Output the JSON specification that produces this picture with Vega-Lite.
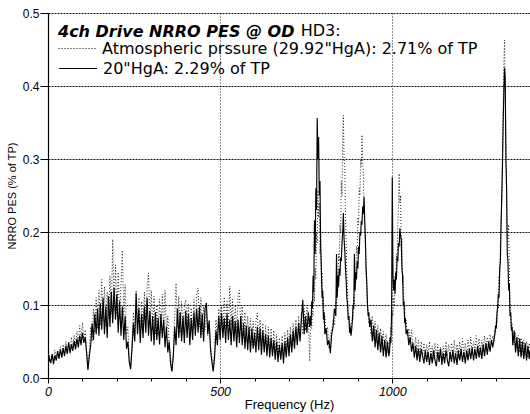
{
"$schema":"https://vega.github.io/schema/vega-lite/v6.json",
"width":482,"height":365,
"autosize":{"type":"none"},
"padding":{"left":48,"top":13,"right":0,"bottom":36},
"background":"white",
"config":{"view":{"stroke":null},"font":"Liberation Sans"},
"resolve":{"axis":{"x":"independent"},"scale":{"strokeDash":"independent"},"legend":{"strokeDash":"independent"}},
"data":{"values":[
{"f":0,"a":0.022,"h":0.018},{"f":4,"a":0.032,"h":0.027},{"f":8,"a":0.019,"h":0.021},{"f":12,"a":0.030,"h":0.033},{"f":16,"a":0.024,"h":0.019},{"f":20,"a":0.038,"h":0.031},{"f":24,"a":0.027,"h":0.024},{"f":28,"a":0.036,"h":0.037},{"f":32,"a":0.030,"h":0.026},{"f":36,"a":0.043,"h":0.039},{"f":40,"a":0.029,"h":0.028},{"f":44,"a":0.046,"h":0.041},{"f":48,"a":0.033,"h":0.030},{"f":52,"a":0.050,"h":0.044},{"f":56,"a":0.036,"h":0.033},{"f":60,"a":0.047,"h":0.049},{"f":64,"a":0.038,"h":0.034},{"f":68,"a":0.056,"h":0.046},{"f":72,"a":0.041,"h":0.037},{"f":76,"a":0.059,"h":0.051},{"f":80,"a":0.045,"h":0.039},{"f":84,"a":0.064,"h":0.054},{"f":88,"a":0.047,"h":0.042},{"f":92,"a":0.072,"h":0.058},{"f":96,"a":0.049,"h":0.045},{"f":100,"a":0.076,"h":0.062},{"f":104,"a":0.052,"h":0.048},{"f":108,"a":0.066,"h":0.056},{"f":112,"a":0.040,"h":0.035},{"f":116,"a":0.015,"h":0.011},{"f":120,"a":0.038,"h":0.030},
{"f":124,"a":0.070,"h":0.045},{"f":128,"a":0.050,"h":0.075},{"f":132,"a":0.095,"h":0.052},{"f":136,"a":0.062,"h":0.088},{"f":140,"a":0.110,"h":0.060},{"f":144,"a":0.068,"h":0.095},{"f":148,"a":0.120,"h":0.058},{"f":152,"a":0.072,"h":0.102},{"f":156,"a":0.135,"h":0.066},{"f":160,"a":0.078,"h":0.110},{"f":164,"a":0.125,"h":0.060},{"f":168,"a":0.070,"h":0.098},{"f":172,"a":0.118,"h":0.055},{"f":176,"a":0.082,"h":0.112},{"f":180,"a":0.140,"h":0.070},{"f":184,"a":0.088,"h":0.118},{"f":188,"a":0.190,"h":0.075},{"f":192,"a":0.092,"h":0.124},{"f":196,"a":0.155,"h":0.080},{"f":200,"a":0.085,"h":0.115},{"f":204,"a":0.145,"h":0.062},{"f":208,"a":0.080,"h":0.105},{"f":212,"a":0.130,"h":0.058},{"f":216,"a":0.175,"h":0.098},{"f":220,"a":0.085,"h":0.052},{"f":224,"a":0.128,"h":0.085},{"f":228,"a":0.060,"h":0.040},{"f":232,"a":0.070,"h":0.050},{"f":236,"a":0.028,"h":0.022},{"f":240,"a":0.015,"h":0.012},
{"f":244,"a":0.050,"h":0.040},{"f":248,"a":0.090,"h":0.075},{"f":252,"a":0.060,"h":0.050},{"f":256,"a":0.120,"h":0.116},{"f":260,"a":0.070,"h":0.060},{"f":264,"a":0.110,"h":0.095},{"f":268,"a":0.062,"h":0.048},{"f":272,"a":0.105,"h":0.088},{"f":276,"a":0.068,"h":0.055},{"f":280,"a":0.118,"h":0.098},{"f":284,"a":0.075,"h":0.062},{"f":288,"a":0.125,"h":0.110},{"f":292,"a":0.144,"h":0.058},{"f":296,"a":0.070,"h":0.092},{"f":300,"a":0.120,"h":0.050},{"f":304,"a":0.065,"h":0.085},{"f":308,"a":0.112,"h":0.045},{"f":312,"a":0.060,"h":0.090},{"f":316,"a":0.100,"h":0.052},{"f":320,"a":0.058,"h":0.082},{"f":324,"a":0.108,"h":0.046},{"f":328,"a":0.062,"h":0.088},{"f":332,"a":0.115,"h":0.055},{"f":336,"a":0.068,"h":0.080},{"f":340,"a":0.120,"h":0.042},{"f":344,"a":0.060,"h":0.070},{"f":348,"a":0.085,"h":0.035},{"f":352,"a":0.045,"h":0.050},{"f":356,"a":0.030,"h":0.020},{"f":360,"a":0.010,"h":0.009},
{"f":364,"a":0.035,"h":0.030},{"f":368,"a":0.085,"h":0.070},{"f":372,"a":0.130,"h":0.045},{"f":376,"a":0.070,"h":0.095},{"f":380,"a":0.112,"h":0.055},{"f":384,"a":0.062,"h":0.090},{"f":388,"a":0.105,"h":0.050},{"f":392,"a":0.060,"h":0.085},{"f":396,"a":0.098,"h":0.048},{"f":400,"a":0.107,"h":0.092},{"f":404,"a":0.065,"h":0.055},{"f":408,"a":0.102,"h":0.088},{"f":412,"a":0.058,"h":0.045},{"f":416,"a":0.096,"h":0.082},{"f":420,"a":0.062,"h":0.052},{"f":424,"a":0.108,"h":0.090},{"f":428,"a":0.068,"h":0.058},{"f":432,"a":0.115,"h":0.095},{"f":436,"a":0.123,"h":0.062},{"f":440,"a":0.070,"h":0.098},{"f":444,"a":0.110,"h":0.055},{"f":448,"a":0.060,"h":0.088},{"f":452,"a":0.100,"h":0.050},{"f":456,"a":0.066,"h":0.095},{"f":460,"a":0.095,"h":0.103},{"f":464,"a":0.058,"h":0.060},{"f":468,"a":0.080,"h":0.078},{"f":472,"a":0.045,"h":0.040},{"f":476,"a":0.028,"h":0.022},{"f":480,"a":0.010,"h":0.009},
{"f":484,"a":0.040,"h":0.030},{"f":488,"a":0.080,"h":0.065},{"f":492,"a":0.055,"h":0.045},{"f":496,"a":0.095,"h":0.085},{"f":500,"a":0.060,"h":0.052},{"f":504,"a":0.100,"h":0.089},{"f":508,"a":0.065,"h":0.055},{"f":512,"a":0.111,"h":0.082},{"f":516,"a":0.068,"h":0.048},{"f":520,"a":0.105,"h":0.088},{"f":524,"a":0.070,"h":0.052},{"f":528,"a":0.126,"h":0.080},{"f":532,"a":0.072,"h":0.045},{"f":536,"a":0.108,"h":0.085},{"f":540,"a":0.062,"h":0.050},{"f":544,"a":0.100,"h":0.078},{"f":548,"a":0.060,"h":0.042},{"f":552,"a":0.112,"h":0.080},{"f":556,"a":0.120,"h":0.048},{"f":560,"a":0.065,"h":0.085},{"f":564,"a":0.098,"h":0.045},{"f":568,"a":0.055,"h":0.075},{"f":572,"a":0.090,"h":0.040},{"f":576,"a":0.050,"h":0.072},{"f":580,"a":0.085,"h":0.038},{"f":584,"a":0.048,"h":0.070},{"f":588,"a":0.082,"h":0.035},{"f":592,"a":0.045,"h":0.068},{"f":596,"a":0.078,"h":0.040},
{"f":600,"a":0.045,"h":0.062},{"f":604,"a":0.078,"h":0.035},{"f":608,"a":0.089,"h":0.070},{"f":612,"a":0.050,"h":0.038},{"f":616,"a":0.080,"h":0.068},{"f":620,"a":0.045,"h":0.032},{"f":624,"a":0.075,"h":0.065},{"f":628,"a":0.040,"h":0.035},{"f":632,"a":0.072,"h":0.060},{"f":636,"a":0.038,"h":0.030},{"f":640,"a":0.070,"h":0.058},{"f":644,"a":0.035,"h":0.028},{"f":648,"a":0.068,"h":0.055},{"f":652,"a":0.032,"h":0.030},{"f":656,"a":0.065,"h":0.052},{"f":660,"a":0.030,"h":0.025},{"f":664,"a":0.060,"h":0.050},{"f":668,"a":0.028,"h":0.022},{"f":672,"a":0.055,"h":0.045},{"f":676,"a":0.026,"h":0.025},{"f":680,"a":0.058,"h":0.048},{"f":684,"a":0.030,"h":0.020},{"f":688,"a":0.062,"h":0.050},{"f":692,"a":0.034,"h":0.028},{"f":696,"a":0.066,"h":0.055},{"f":700,"a":0.038,"h":0.030},{"f":704,"a":0.070,"h":0.060},{"f":708,"a":0.042,"h":0.035},{"f":712,"a":0.075,"h":0.065},{"f":716,"a":0.046,"h":0.040},{"f":720,"a":0.080,"h":0.070},{"f":724,"a":0.050,"h":0.045},{"f":728,"a":0.085,"h":0.075},{"f":732,"a":0.055,"h":0.050},{"f":736,"a":0.090,"h":0.080},{"f":740,"a":0.060,"h":0.107},{"f":744,"a":0.095,"h":0.060},{"f":748,"a":0.065,"h":0.085},{"f":752,"a":0.100,"h":0.062},{"f":756,"a":0.085,"h":0.090},{"f":760,"a":0.023,"h":0.070},
{"f":762,"a":0.060,"h":0.085},{"f":764,"a":0.075,"h":0.072},{"f":766,"a":0.068,"h":0.105},{"f":768,"a":0.092,"h":0.095},{"f":770,"a":0.085,"h":0.140},{"f":772,"a":0.120,"h":0.118},{"f":774,"a":0.105,"h":0.216},{"f":776,"a":0.150,"h":0.170},{"f":778,"a":0.135,"h":0.260},{"f":780,"a":0.200,"h":0.230},{"f":782,"a":0.185,"h":0.356},{"f":784,"a":0.257,"h":0.300},{"f":786,"a":0.220,"h":0.330},{"f":788,"a":0.240,"h":0.250},{"f":790,"a":0.170,"h":0.270},{"f":792,"a":0.190,"h":0.180},{"f":794,"a":0.130,"h":0.150},{"f":796,"a":0.145,"h":0.110},{"f":798,"a":0.100,"h":0.120},{"f":800,"a":0.110,"h":0.080},{"f":802,"a":0.075,"h":0.090},{"f":804,"a":0.085,"h":0.060},{"f":808,"a":0.060,"h":0.068},{"f":812,"a":0.070,"h":0.045},{"f":816,"a":0.040,"h":0.052},{"f":820,"a":0.058,"h":0.034},
{"f":824,"a":0.066,"h":0.060},{"f":828,"a":0.080,"h":0.070},{"f":832,"a":0.072,"h":0.095},{"f":836,"a":0.105,"h":0.085},{"f":838,"a":0.095,"h":0.170},{"f":840,"a":0.130,"h":0.110},{"f":842,"a":0.120,"h":0.140},{"f":844,"a":0.170,"h":0.125},{"f":846,"a":0.160,"h":0.150},{"f":848,"a":0.210,"h":0.140},{"f":850,"a":0.200,"h":0.165},{"f":852,"a":0.270,"h":0.160},{"f":854,"a":0.250,"h":0.185},{"f":856,"a":0.330,"h":0.200},{"f":858,"a":0.360,"h":0.226},{"f":860,"a":0.300,"h":0.190},{"f":862,"a":0.290,"h":0.175},{"f":864,"a":0.220,"h":0.150},{"f":866,"a":0.190,"h":0.135},{"f":868,"a":0.140,"h":0.110},{"f":870,"a":0.120,"h":0.100},{"f":872,"a":0.090,"h":0.080},{"f":874,"a":0.085,"h":0.085},{"f":876,"a":0.068,"h":0.062},{"f":878,"a":0.075,"h":0.070},{"f":880,"a":0.060,"h":0.058},{"f":882,"a":0.072,"h":0.066},{"f":884,"a":0.085,"h":0.078},{"f":886,"a":0.080,"h":0.100},{"f":888,"a":0.110,"h":0.095},{"f":890,"a":0.100,"h":0.170},{"f":892,"a":0.140,"h":0.120},{"f":894,"a":0.130,"h":0.145},{"f":896,"a":0.180,"h":0.135},{"f":898,"a":0.170,"h":0.160},{"f":900,"a":0.220,"h":0.150},{"f":902,"a":0.210,"h":0.180},{"f":904,"a":0.260,"h":0.170},{"f":906,"a":0.250,"h":0.200},{"f":908,"a":0.300,"h":0.195},{"f":910,"a":0.290,"h":0.215},{"f":912,"a":0.333,"h":0.210},{"f":914,"a":0.300,"h":0.235},{"f":916,"a":0.280,"h":0.225},{"f":918,"a":0.230,"h":0.248},{"f":920,"a":0.200,"h":0.215},{"f":922,"a":0.170,"h":0.190},{"f":924,"a":0.140,"h":0.150},{"f":926,"a":0.120,"h":0.130},{"f":928,"a":0.100,"h":0.100},{"f":930,"a":0.090,"h":0.085},{"f":932,"a":0.075,"h":0.090},{"f":934,"a":0.082,"h":0.070},
{"f":938,"a":0.060,"h":0.080},{"f":942,"a":0.085,"h":0.050},{"f":946,"a":0.052,"h":0.072},{"f":950,"a":0.078,"h":0.042},{"f":954,"a":0.048,"h":0.066},{"f":958,"a":0.072,"h":0.038},{"f":962,"a":0.045,"h":0.062},{"f":966,"a":0.068,"h":0.035},{"f":970,"a":0.040,"h":0.058},{"f":974,"a":0.064,"h":0.030},{"f":978,"a":0.038,"h":0.052},{"f":982,"a":0.060,"h":0.028},{"f":986,"a":0.035,"h":0.050},{"f":990,"a":0.038,"h":0.030},{"f":992,"a":0.055,"h":0.036},{"f":994,"a":0.045,"h":0.055},{"f":996,"a":0.070,"h":0.048},{"f":998,"a":0.060,"h":0.090},{"f":1000,"a":0.090,"h":0.275},{"f":1002,"a":0.085,"h":0.140},{"f":1004,"a":0.110,"h":0.120},{"f":1006,"a":0.100,"h":0.135},{"f":1008,"a":0.140,"h":0.115},{"f":1010,"a":0.130,"h":0.145},{"f":1012,"a":0.170,"h":0.135},{"f":1014,"a":0.160,"h":0.165},{"f":1016,"a":0.210,"h":0.160},{"f":1018,"a":0.230,"h":0.185},{"f":1020,"a":0.280,"h":0.180},{"f":1022,"a":0.240,"h":0.205},{"f":1024,"a":0.250,"h":0.195},{"f":1026,"a":0.180,"h":0.190},{"f":1028,"a":0.190,"h":0.150},{"f":1030,"a":0.130,"h":0.140},{"f":1032,"a":0.140,"h":0.100},{"f":1034,"a":0.095,"h":0.105},{"f":1036,"a":0.100,"h":0.075},{"f":1038,"a":0.075,"h":0.082},{"f":1040,"a":0.080,"h":0.060},{"f":1044,"a":0.058,"h":0.066},{"f":1048,"a":0.068,"h":0.045},{"f":1052,"a":0.048,"h":0.056},{"f":1056,"a":0.066,"h":0.036},{"f":1060,"a":0.042,"h":0.048},
{"f":1064,"a":0.040,"h":0.028},{"f":1068,"a":0.056,"h":0.044},{"f":1072,"a":0.032,"h":0.024},{"f":1076,"a":0.052,"h":0.040},{"f":1080,"a":0.030,"h":0.022},{"f":1084,"a":0.050,"h":0.040},{"f":1088,"a":0.028,"h":0.030},{"f":1092,"a":0.048,"h":0.020},{"f":1096,"a":0.026,"h":0.038},{"f":1100,"a":0.046,"h":0.022},{"f":1104,"a":0.030,"h":0.036},{"f":1108,"a":0.050,"h":0.018},{"f":1112,"a":0.028,"h":0.034},{"f":1116,"a":0.044,"h":0.020},{"f":1120,"a":0.026,"h":0.038},{"f":1124,"a":0.048,"h":0.024},{"f":1128,"a":0.030,"h":0.016},{"f":1132,"a":0.046,"h":0.036},{"f":1136,"a":0.026,"h":0.022},{"f":1140,"a":0.042,"h":0.040},{"f":1144,"a":0.024,"h":0.018},{"f":1148,"a":0.044,"h":0.034},{"f":1152,"a":0.028,"h":0.020},{"f":1156,"a":0.050,"h":0.038},{"f":1160,"a":0.030,"h":0.024},{"f":1164,"a":0.046,"h":0.016},{"f":1168,"a":0.026,"h":0.036},{"f":1172,"a":0.048,"h":0.022},{"f":1176,"a":0.032,"h":0.038},{"f":1180,"a":0.052,"h":0.020},{"f":1184,"a":0.028,"h":0.034},{"f":1188,"a":0.046,"h":0.018},{"f":1192,"a":0.026,"h":0.038},{"f":1196,"a":0.050,"h":0.024},{"f":1200,"a":0.030,"h":0.040},{"f":1204,"a":0.054,"h":0.022},{"f":1208,"a":0.032,"h":0.036},{"f":1212,"a":0.048,"h":0.020},{"f":1216,"a":0.028,"h":0.038},{"f":1220,"a":0.052,"h":0.024},{"f":1224,"a":0.034,"h":0.040},{"f":1228,"a":0.056,"h":0.026},{"f":1232,"a":0.032,"h":0.042},{"f":1236,"a":0.050,"h":0.024},{"f":1240,"a":0.036,"h":0.040},{"f":1244,"a":0.058,"h":0.026},{"f":1248,"a":0.034,"h":0.044},{"f":1252,"a":0.054,"h":0.028},{"f":1256,"a":0.032,"h":0.042},{"f":1260,"a":0.052,"h":0.026},{"f":1264,"a":0.036,"h":0.046},{"f":1268,"a":0.058,"h":0.030},{"f":1272,"a":0.038,"h":0.048},{"f":1276,"a":0.056,"h":0.032},{"f":1280,"a":0.042,"h":0.050},{"f":1284,"a":0.060,"h":0.036},{"f":1288,"a":0.046,"h":0.052},
{"f":1292,"a":0.058,"h":0.042},{"f":1296,"a":0.050,"h":0.055},{"f":1298,"a":0.066,"h":0.060},{"f":1300,"a":0.062,"h":0.072},{"f":1302,"a":0.080,"h":0.068},{"f":1304,"a":0.075,"h":0.088},{"f":1306,"a":0.100,"h":0.097},{"f":1308,"a":0.095,"h":0.115},{"f":1310,"a":0.140,"h":0.110},{"f":1312,"a":0.130,"h":0.150},{"f":1314,"a":0.190,"h":0.160},{"f":1316,"a":0.216,"h":0.210},{"f":1318,"a":0.240,"h":0.250},{"f":1320,"a":0.300,"h":0.290},{"f":1322,"a":0.360,"h":0.350},{"f":1324,"a":0.430,"h":0.390},{"f":1326,"a":0.463,"h":0.425},{"f":1328,"a":0.400,"h":0.410},{"f":1330,"a":0.330,"h":0.300},{"f":1332,"a":0.250,"h":0.260},{"f":1334,"a":0.190,"h":0.170},{"f":1336,"a":0.200,"h":0.160},{"f":1338,"a":0.210,"h":0.120},{"f":1340,"a":0.140,"h":0.130},{"f":1342,"a":0.100,"h":0.085},{"f":1344,"a":0.085,"h":0.090},{"f":1346,"a":0.070,"h":0.065},{"f":1348,"a":0.075,"h":0.070},{"f":1350,"a":0.060,"h":0.045},{"f":1354,"a":0.045,"h":0.065},{"f":1358,"a":0.062,"h":0.035},{"f":1362,"a":0.038,"h":0.056},{"f":1366,"a":0.058,"h":0.030},{"f":1370,"a":0.035,"h":0.054},{"f":1374,"a":0.055,"h":0.028},{"f":1378,"a":0.032,"h":0.050},{"f":1382,"a":0.052,"h":0.026},{"f":1386,"a":0.030,"h":0.048},{"f":1390,"a":0.050,"h":0.024},{"f":1394,"a":0.028,"h":0.044},{"f":1398,"a":0.048,"h":0.026},{"f":1400,"a":0.040,"h":0.038}
]},
"layer":[
{"mark":{"type":"line","color":"#222222","strokeWidth":1,"clip":true},
 "encoding":{
  "x":{"field":"f","type":"quantitative","scale":{"domain":[0,1400],"nice":false,"zero":false},
   "axis":{"title":"Frequency (Hz)","orient":"bottom","values":[0,500,1000],"format":"d","labelOverlap":false,
    "labelFont":"Liberation Sans","labelFontSize":12.5,"labelFontStyle":"italic","labelColor":"black","labelPadding":2,"labelFlush":false,
    "tickColor":"black","tickSize":5,"domainColor":"black","domainWidth":1.2,
    "grid":true,"gridColor":"#222222","gridDash":[1,2],"gridWidth":1,
    "titleFont":"Liberation Sans","titleFontSize":13,"titleFontWeight":"normal","titleColor":"black","titlePadding":1}},
  "y":{"field":"a","type":"quantitative","scale":{"domain":[0,0.5],"nice":false},
   "axis":{"title":"NRRO PES (% of TP)","values":[0,0.1,0.2,0.3,0.4,0.5],"format":".1f",
    "labelFont":"Liberation Sans","labelFontSize":12,"labelColor":"black","labelPadding":1,
    "tickColor":"black","tickSize":8,"domainColor":"black","domainWidth":1.2,
    "grid":true,"gridColor":"#111111","gridDash":[2,1],"gridWidth":1,
    "titleFont":"Liberation Sans","titleFontSize":11,"titleFontWeight":"normal","titleColor":"black","titlePadding":5}},
  "strokeDash":{"datum":"Atmospheric prssure (29.92\"HgA): 2.71% of TP",
   "scale":{"domain":["Atmospheric prssure (29.92\"HgA): 2.71% of TP"],"range":[[1,2]]},
   "legend":{"orient":"none","legendX":10,"legendY":10.5,"padding":0,
    "title":"4ch Drive NRRO PES @ OD","titleFont":"DejaVu Sans","titleFontSize":16,"titleFontStyle":"italic","titleFontWeight":"bold","titleColor":"black","titlePadding":-10.5,"titleLimit":1000,
    "labelFont":"DejaVu Sans","labelFontSize":16,"labelColor":"black","labelLimit":1000,"labelOffset":5,
    "symbolType":"stroke","symbolSize":1444,"symbolStrokeColor":"black","symbolStrokeWidth":1}}
 }},
{"mark":{"type":"line","color":"black","strokeWidth":1.15,"clip":true},
 "encoding":{
  "x":{"field":"f","type":"quantitative",
   "axis":{"orient":"bottom","title":null,"values":[100,200,300,400,600,700,800,900,1100,1200,1300,1400],"labels":false,"domain":false,"grid":false,"ticks":true,"tickSize":3,"tickColor":"black"}},
  "y":{"field":"h","type":"quantitative","axis":{"title":"NRRO PES (% of TP)"}},
  "strokeDash":{"datum":"20\"HgA: 2.29% of TP",
   "scale":{"domain":["20\"HgA: 2.29% of TP"],"range":[[1,0]]},
   "legend":{"orient":"none","legendX":10,"legendY":35.5,"padding":0,"title":null,
    "labelFont":"DejaVu Sans","labelFontSize":16,"labelColor":"black","labelLimit":1000,"labelOffset":5,
    "symbolType":"stroke","symbolSize":1444,"symbolStrokeColor":"black","symbolStrokeWidth":1.15}}
 }},
{"data":{"values":[{"t":"HD3:"}]},
 "mark":{"type":"text","font":"DejaVu Sans","fontSize":16,"align":"left","baseline":"alphabetic","color":"black"},
 "encoding":{"x":{"datum":734,"axis":null},"y":{"datum":0.4685},"text":{"field":"t"}}}
]
}
